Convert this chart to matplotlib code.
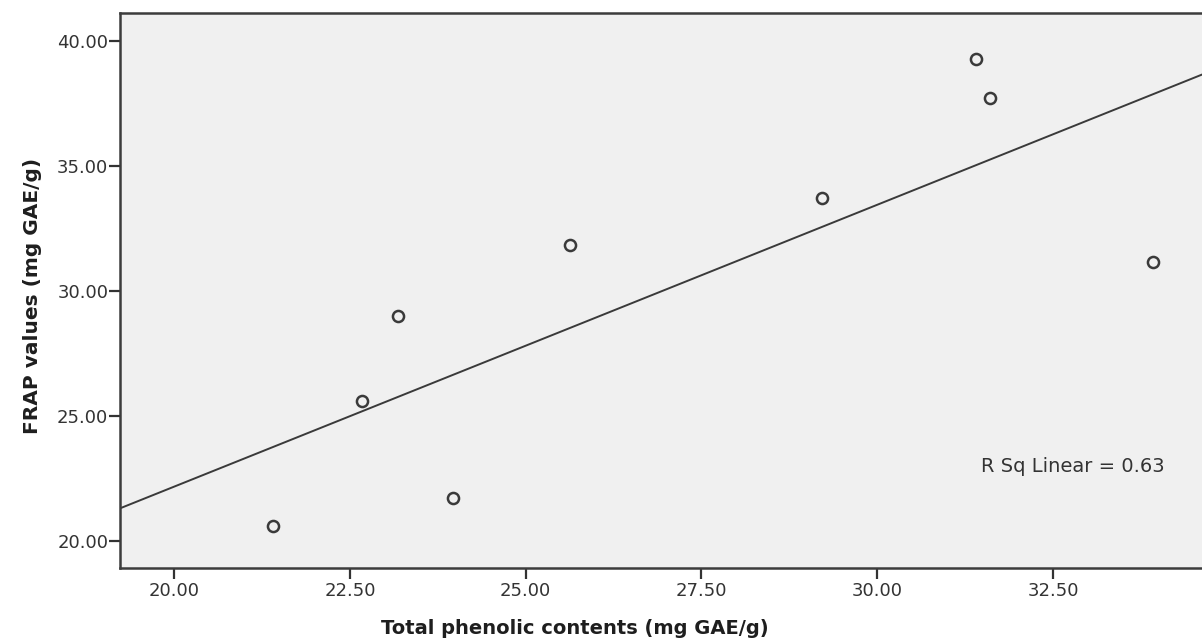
import numpy as np
import matplotlib
matplotlib.use("Agg")
import matplotlib.pyplot as plt

# Data
phenolic = [21.41, 22.67, 23.19, 23.97, 25.63, 29.22, 31.41, 31.61, 33.93]
frap = [20.60, 25.60, 29.00, 21.72, 31.84, 33.72, 39.28, 37.72, 31.16]
x_ticks = [20.0, 22.5, 25.0, 27.5, 30.0, 32.5]
y_ticks = [20.0, 25.0, 30.0, 35.0, 40.0]
r2_label = "R Sq Linear = 0.63"

fig = plt.figure(figsize=(12.02, 6.43), dpi=100)
ax = fig.add_axes([120/1202, 1-568/643, 1082/1202, 555/643])
ax.set_facecolor("#f0f0f0")

xlim = (19.23, 34.62)
ylim = (18.92, 41.12)

slope, intercept = np.polyfit(phenolic, frap, 1)
xs = np.array(xlim)
ax.plot(xs, intercept + slope * xs, color="#3a3a3a", lw=1.4, zorder=2)

ax.plot(phenolic, frap, linestyle="none", marker="o", markersize=8,
        markerfacecolor="none", markeredgecolor="#3a3a3a", markeredgewidth=1.8, zorder=3)

ax.set_xlim(*xlim)
ax.set_ylim(*ylim)
ax.set_xticks(x_ticks)
ax.set_yticks(y_ticks)
ax.set_xticklabels([f"{v:.2f}" for v in x_ticks])
ax.set_yticklabels([f"{v:.2f}" for v in y_ticks])
ax.tick_params(direction="out", length=8, width=1.6, color="#333333",
               labelsize=13, labelcolor="#333333")
ax.tick_params(axis="y", pad=0.5)
ax.tick_params(axis="x", pad=2)
for side in ["left", "bottom", "top"]:
    ax.spines[side].set_color("#3c3c3c")
    ax.spines[side].set_linewidth(1.8)
ax.spines["right"].set_visible(False)

ax.set_xlabel("Total phenolic contents (mg GAE/g)", fontsize=14, fontweight="bold",
              color="#1e1e1e")
ax.xaxis.set_label_coords(0.42, -0.092)
ax.set_ylabel("FRAP values (mg GAE/g)", fontsize=14.5, fontweight="bold",
              color="#1e1e1e")
ax.yaxis.set_label_coords(-0.072, 0.49)

ax.text(31.48, 22.96, r2_label, fontsize=14, color="#333333", ha="left", va="center")

fig.savefig("out.png", dpi=100)
